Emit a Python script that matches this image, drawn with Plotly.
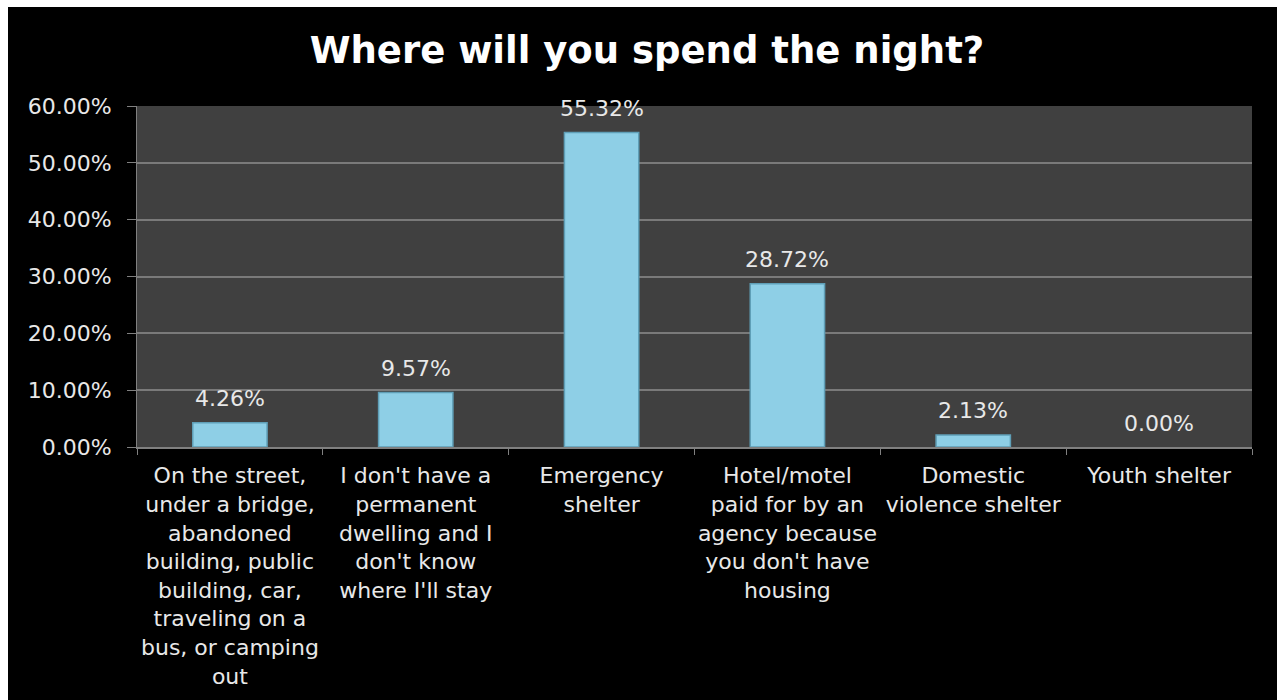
import plotly.graph_objects as go

categories = [
    "On the street,<br>under a bridge,<br>abandoned<br>building, public<br>building, car,<br>traveling on a<br>bus, or camping<br>out",
    "I don't have a<br>permanent<br>dwelling and I<br>don't know<br>where I'll stay",
    "Emergency<br>shelter",
    "Hotel/motel<br>paid for by an<br>agency because<br>you don't have<br>housing",
    "Domestic<br>violence shelter",
    "Youth shelter",
]
shares = [0.0426, 0.0957, 0.5532, 0.2872, 0.0213, 0.0000]
y_ticks = [0, 0.1, 0.2, 0.3, 0.4, 0.5, 0.6]

W, H = 1277, 700
L, R, T, B = 137, 25, 106, 253
pw, ph = W - L - R, H - T - B

FONT = "DejaVu Sans"
TXT = "#e8e8e8"

fig = go.Figure()
fig.add_trace(go.Bar(
    x=categories,
    y=shares,
    width=0.4,
    marker=dict(
        color="#8ecfe6",
        line=dict(color="#5f9fb7", width=[1.5 if v > 0 else 0 for v in shares]),
    ),
    hoverinfo="skip",
))

# value labels above each bar
for c, v in zip(categories, shares):
    fig.add_annotation(
        x=c, y=v, text=f"{v*100:.2f}%", showarrow=False,
        yanchor="middle", yshift=24,
        font=dict(family=FONT, size=22, color=TXT),
    )

# white frame strips on top and left of the black card
fig.add_shape(type="rect", xref="paper", yref="paper",
              x0=-L / pw, x1=(8 - L) / pw, y0=-B / ph, y1=(H - B) / ph,
              fillcolor="white", line_width=0, layer="below")
fig.add_shape(type="rect", xref="paper", yref="paper",
              x0=-L / pw, x1=(W - L) / pw, y0=(H - B - 7) / ph, y1=(H - B) / ph,
              fillcolor="white", line_width=0, layer="below")

fig.update_layout(
    width=W, height=H,
    margin=dict(l=L, r=R, t=T, b=B, autoexpand=False),
    paper_bgcolor="black",
    plot_bgcolor="#404040",
    showlegend=False,
    title=dict(
        text="<b>Where will you spend the night?</b>",
        x=647 / W, xref="container", xanchor="center",
        y=1 - 50 / H, yanchor="middle",
        font=dict(family=FONT, size=37, color="white"),
    ),
    xaxis=dict(
        tickson="boundaries", ticks="outside", ticklen=6, tickcolor="#808080",
        showline=True, linecolor="#808080", linewidth=2,
        showgrid=False, tickangle=0,
        tickfont=dict(family=FONT, size=22, color=TXT),
        ticklabelstandoff=8,
        fixedrange=True,
    ),
    yaxis=dict(
        range=[0, 0.6], tickvals=y_ticks, tickformat=".2%",
        ticks="outside", ticklen=9, tickcolor="#808080",
        showline=True, linecolor="#808080", linewidth=1,
        gridcolor="#7a7a7a", gridwidth=1.5, zeroline=False,
        tickfont=dict(family=FONT, size=22, color=TXT),
        ticklabelstandoff=11,
        fixedrange=True,
    ),
)

fig.write_html("out.html")
